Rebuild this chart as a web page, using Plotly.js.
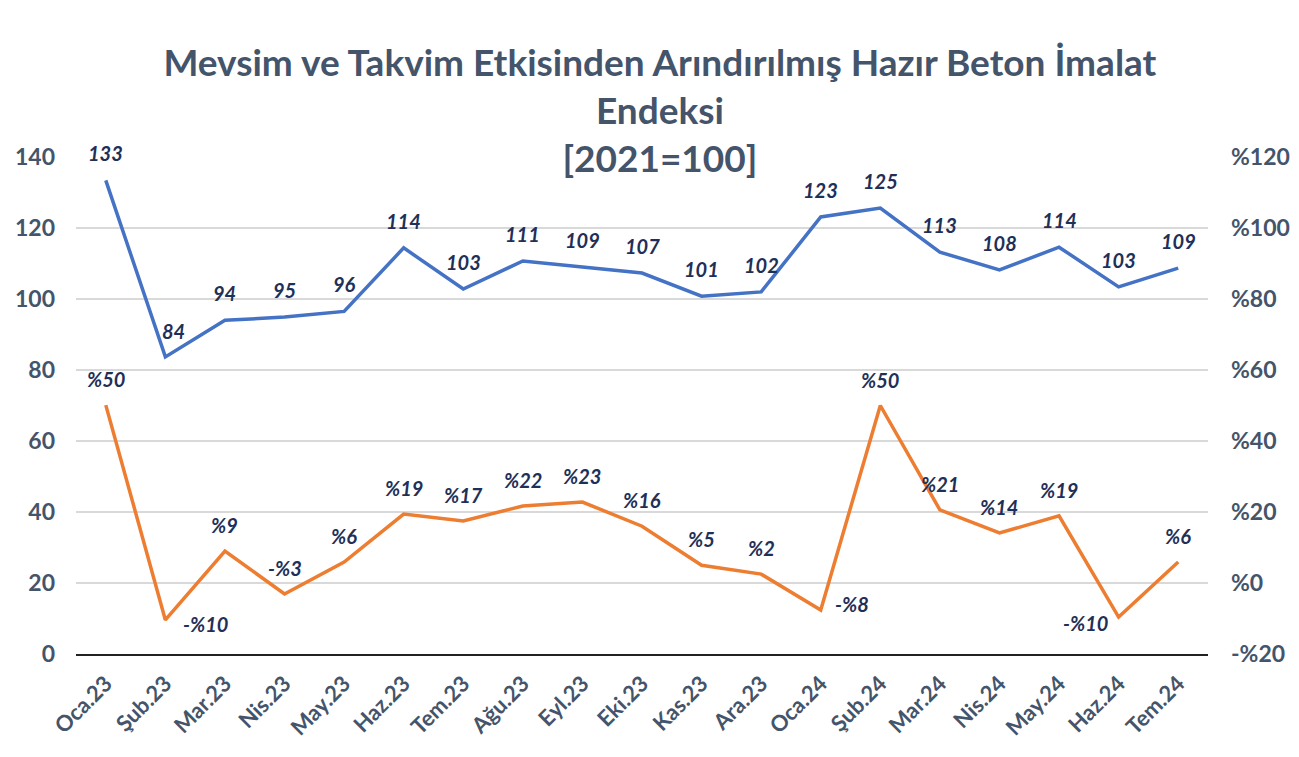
<!DOCTYPE html>
<html>
<head>
<meta charset="utf-8">
<script src="https://cdn.plot.ly/plotly-3.0.1.min.js"></script>
<style>html,body{margin:0;padding:0;background:#fff;}#chart{width:1299px;height:757px;}</style>
</head>
<body>
<div id="chart"></div>
<script>
const months = ["Oca.23","Şub.23","Mar.23","Nis.23","May.23","Haz.23","Tem.23","Ağu.23","Eyl.23","Eki.23","Kas.23","Ara.23","Oca.24","Şub.24","Mar.24","Nis.24","May.24","Haz.24","Tem.24"];
const indexValues = [133.4,83.7,94.0,94.9,96.5,114.4,102.8,110.7,109.0,107.3,100.8,102.0,123.1,125.6,113.2,108.2,114.6,103.4,108.7];
const indexLabels = ["133","84","94","95","96","114","103","111","109","107","101","102","123","125","113","108","114","103","109"];
const changeValues = [50.1,-10.4,9.0,-3.1,5.9,19.4,17.5,21.7,22.8,16.0,5.0,2.5,-7.6,50.0,20.6,14.1,18.9,-9.6,5.9];
const changeLabels = ["%50","-%10","%9","-%3","%6","%19","%17","%22","%23","%16","%5","%2","-%8","%50","%21","%14","%19","-%10","%6"];
const leftTicks = [0,20,40,60,80,100,120,140];
const rightTickVals = [-20,0,20,40,60,80,100,120];
const rightTickText = ["-%20","%0","%20","%40","%60","%80","%100","%120"];

const FONT = "Lato, 'Open Sans', 'DejaVu Sans', sans-serif";
const LABEL_COLOR = "#1f3058";
const TICK_COLOR = "#44546a";

// label placement exceptions (style only)
function shiftFor(series, i) {
  if (series === 'index') {
    if (i === 1) return {xs: 8, ys: 26};
    return {xs: 0, ys: 27};
  } else {
    if (i === 1) return {xs: 40, ys: -4};
    if (i === 12) return {xs: 31, ys: 6};
    if (i === 17) return {xs: -33, ys: -6};
    return {xs: 0, ys: 26};
  }
}

const annotations = [];
months.forEach((m, i) => {
  const s1 = shiftFor('index', i);
  annotations.push({x: m, y: indexValues[i], xref: 'x', yref: 'y', text: indexLabels[i], showarrow: false,
    xshift: s1.xs, yshift: s1.ys, font: {family: FONT, size: 20, color: LABEL_COLOR, weight: 'bold', style: 'italic'}});
  const s2 = shiftFor('change', i);
  annotations.push({x: m, y: changeValues[i], xref: 'x', yref: 'y2', text: changeLabels[i], showarrow: false,
    xshift: s2.xs, yshift: s2.ys, font: {family: FONT, size: 20, color: LABEL_COLOR, weight: 'bold', style: 'italic'}});
});

const traces = [
  {x: months, y: indexValues, type: 'scatter', mode: 'lines', name: 'Endeks',
   line: {color: '#4472c4', width: 3.5}, yaxis: 'y', hoverinfo: 'skip'},
  {x: months, y: changeValues, type: 'scatter', mode: 'lines', name: 'Yıllık değişim',
   line: {color: '#ed7d31', width: 3.5}, yaxis: 'y2', hoverinfo: 'skip'}
];

const layout = {
  width: 1299, height: 757,
  paper_bgcolor: '#fff', plot_bgcolor: '#fff',
  margin: {l: 76, r: 91, t: 157, b: 103},
  showlegend: false,
  title: {text: 'Mevsim ve Takvim Etkisinden Arındırılmış Hazır Beton İmalat<br>Endeksi<br>[2021=100]',
    x: 0.508, xanchor: 'center', y: 0.9, yanchor: 'top', yref: 'container',
    font: {family: FONT, size: 37, color: TICK_COLOR, weight: 'bold'}},
  xaxis: {type: 'category', range: [-0.5, 18.5], showgrid: false, showline: true, linecolor: '#222', linewidth: 2,
    ticks: '', tickangle: -45, ticklabelstandoff: 6, tickfont: {family: FONT, size: 22, color: TICK_COLOR, weight: 'bold'}, fixedrange: true, zeroline: false},
  yaxis: {range: [0, 140], tickvals: leftTicks, showgrid: true, gridcolor: '#d9d9d9', gridwidth: 1.3, zeroline: false,
    ticks: '', ticklabelstandoff: 20, tickfont: {family: FONT, size: 23, color: TICK_COLOR, weight: 'bold'}, automargin: false},
  yaxis2: {range: [-20, 120], overlaying: 'y', side: 'right', tickvals: rightTickVals, ticktext: rightTickText,
    showgrid: false, zeroline: false, ticks: '', ticklabelstandoff: 22, tickfont: {family: FONT, size: 23, color: TICK_COLOR, weight: 'bold'}, automargin: false},
  annotations: annotations
};

Plotly.newPlot('chart', traces, layout, {displayModeBar: false, staticPlot: true});
</script>
</body>
</html>
